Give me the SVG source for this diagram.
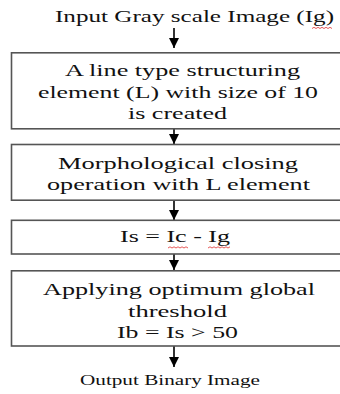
<svg xmlns="http://www.w3.org/2000/svg" width="340" height="394" viewBox="0 0 340 394">
<style>
.box{fill:#fff;stroke:#555;stroke-width:1.6}
.t{font-family:"Liberation Serif","Times New Roman",serif;font-size:17.5px;fill:#111}
.o{font-family:"Liberation Serif","Times New Roman",serif;font-size:15px;fill:#111}
.c{stroke:#000;stroke-width:1.6;fill:none}
.sq{stroke:#e03030;stroke-width:0.8;fill:none}
</style>
<defs>
<marker id="ah" markerUnits="userSpaceOnUse" markerWidth="11" markerHeight="11" refX="10" refY="5.5" orient="auto">
<path d="M0,0.5 L10,5.5 L0,10.5 Z" fill="#000"/>
</marker>
</defs>
<rect width="340" height="394" fill="#fff"/>
<g id="input">
<text class="t" x="55" y="22" textLength="279" lengthAdjust="spacingAndGlyphs">Input Gray scale Image (Ig)</text>
<path class="sq" d="M312,28.5 l2,-1.2 l2,1.2 l2,-1.2 l2,1.2 l2,-1.2 l2,1.2 l2,-1.2 l2,1.2 l2,-1.2 l2,1.2"/>
</g>
<g id="connectors">
<line class="c" x1="174" y1="28" x2="174" y2="48" marker-end="url(#ah)"/>
<line class="c" x1="174" y1="129" x2="174" y2="144" marker-end="url(#ah)"/>
<line class="c" x1="174" y1="200" x2="174" y2="220" marker-end="url(#ah)"/>
<line class="c" x1="174" y1="254" x2="174" y2="270" marker-end="url(#ah)"/>
<line class="c" x1="174" y1="346" x2="174" y2="367" marker-end="url(#ah)"/>
</g>
<g id="step1">
<rect class="box" x="11.5" y="52.8" width="340" height="76"/>
<text class="t" x="65" y="76" textLength="235" lengthAdjust="spacingAndGlyphs">A line type structuring</text>
<text class="t" x="38" y="98" textLength="280" lengthAdjust="spacingAndGlyphs">element (L) with size of 10</text>
<text class="t" x="128" y="118.5" textLength="99" lengthAdjust="spacingAndGlyphs">is created</text>
</g>
<g id="step2">
<rect class="box" x="11.5" y="144.5" width="340" height="55.7"/>
<text class="t" x="58" y="169" textLength="240" lengthAdjust="spacingAndGlyphs">Morphological closing</text>
<text class="t" x="47" y="190" textLength="263" lengthAdjust="spacingAndGlyphs">operation with L element</text>
</g>
<g id="step3">
<rect class="box" x="11.5" y="220.3" width="340" height="33.7"/>
<text class="t" x="120" y="242" textLength="110" lengthAdjust="spacingAndGlyphs">Is = Ic - Ig</text>
<path class="sq" d="M168,248 l2,-1.2 l2,1.2 l2,-1.2 l2,1.2 l2,-1.2 l2,1.2 l2,-1.2 l2,1.2 l2,-1.2 l2,1.2"/>
<path class="sq" d="M208,248 l2,-1.2 l2,1.2 l2,-1.2 l2,1.2 l2,-1.2 l2,1.2 l2,-1.2 l2,1.2 l2,-1.2 l2,1.2 l2,-1.2"/>
</g>
<g id="step4">
<rect class="box" x="11.5" y="270.8" width="340" height="75.2"/>
<text class="t" x="43" y="295" textLength="272" lengthAdjust="spacingAndGlyphs">Applying optimum global</text>
<text class="t" x="128" y="317" textLength="99" lengthAdjust="spacingAndGlyphs">threshold</text>
<text class="t" x="117" y="338" textLength="121" lengthAdjust="spacingAndGlyphs">Ib = Is &gt; 50</text>
</g>
<g id="output">
<text class="o" x="80" y="385" textLength="180" lengthAdjust="spacingAndGlyphs">Output Binary Image</text>
</g>
</svg>
